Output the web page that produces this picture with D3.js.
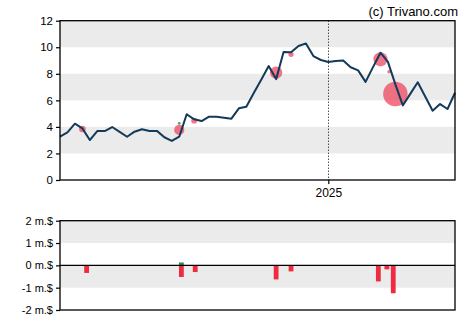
<!DOCTYPE html>
<html>
<head>
<meta charset="utf-8">
<script src="https://cdn.jsdelivr.net/npm/d3@7"></script>
<style>
  html, body { margin: 0; padding: 0; background: #fff; }
  svg { display: block; font-family: Arial, "Liberation Sans", sans-serif; }
</style>
</head>
<body>
<svg id="chart" width="470" height="325"></svg>
<script>
// Weekly closing prices (USD), first week starting 2024-04-24
const firstWeek = "2024-04-24";
const closes = [
  3.26, 3.59, 4.24, 3.89, 3.01, 3.69, 3.69, 3.99, 3.63, 3.26,
  3.64, 3.82, 3.69, 3.70, 3.22, 2.94, 3.26, 4.95, 4.57, 4.44,
  4.77, 4.77, 4.69, 4.62, 5.40, 5.52, 6.55, 7.55, 8.58, 7.60,
  9.64, 9.62, 10.09, 10.29, 9.34, 9.04, 8.89, 8.96, 9.01, 8.49,
  8.26, 7.39, 8.50, 9.59, 8.90, 7.20, 5.62, 6.49, 7.36, 6.29,
  5.22, 5.72, 5.35, 6.57
];

// Insider trades: date, price, value in millions USD (negative = sale)
const tradeDates  = ["2024-05-15", "2024-08-14", "2024-08-14", "2024-08-28", "2024-11-13", "2024-11-27", "2025-02-19", "2025-02-27", "2025-03-05"];
const tradePrices = [3.84, 3.77, 4.27, 4.47, 8.08, 9.47, 9.09, 8.16, 6.48];
const tradeValues = [-0.34, -0.52, 0.13, -0.30, -0.63, -0.27, -0.72, -0.18, -1.25];

// Net insider flow per filing period, millions USD
const flowDates = ["2024-05-19", "2024-08-16", "2024-08-29", "2024-11-13", "2024-11-27", "2025-02-17", "2025-02-25", "2025-03-03"];
const flowBuys  = [0, 0.13, 0, 0, 0, 0, 0, 0];
const flowSells = [-0.34, -0.52, -0.30, -0.63, -0.27, -0.72, -0.18, -1.25];

const priceTicks = [0, 2, 4, 6, 8, 10, 12];
const flowTicks = [2, 1, 0, -1, -2];
const flowTickLabels = ["2 m.$", "1 m.$", "0 m.$", "-1 m.$", "-2 m.$"];
const yearMark = "2025-01-01";
const yearLabel = "2025";
const creditText = "(c) Trivano.com";

const parse = d3.timeParse("%Y-%m-%d");
const start = parse(firstWeek);
const weeks = closes.map((v, i) => ({ date: d3.timeDay.offset(start, i * 7), value: v }));
const trades = tradeDates.map((d, i) => ({ date: parse(d), price: tradePrices[i], value: tradeValues[i] }));
const flows = flowDates.map((d, i) => ({ date: parse(d), buy: flowBuys[i], sell: flowSells[i] }));

const svg = d3.select("#chart");
const left = 60, right = 455;
const main = { top: 20.7, bottom: 180 };
const lower = { top: 220.7, bottom: 310 };

const x = d3.scaleTime()
  .domain([weeks[0].date, weeks[weeks.length - 1].date])
  .range([left, right]);
const y = d3.scaleLinear().domain([0, 12]).range([main.bottom, main.top]);
const yf = d3.scaleLinear().domain([-2, 2]).range([lower.bottom, lower.top]);

const bandFill = "#ebebeb";

// Alternating horizontal bands on the price panel
svg.append("g").selectAll("rect")
  .data([[10, 12], [6, 8], [2, 4]])
  .join("rect")
  .attr("x", left).attr("width", right - left)
  .attr("y", d => y(d[1])).attr("height", d => y(d[0]) - y(d[1]))
  .attr("fill", bandFill);

// Bands on the flow panel
svg.append("g").selectAll("rect")
  .data([[1, 2], [-1, 0]])
  .join("rect")
  .attr("x", left).attr("width", right - left)
  .attr("y", d => yf(d[1])).attr("height", d => yf(d[0]) - yf(d[1]))
  .attr("fill", bandFill);

// Year divider
const yx = Math.round(x(parse(yearMark))) + 0.5;
svg.append("line")
  .attr("x1", yx).attr("x2", yx)
  .attr("y1", main.top).attr("y2", main.bottom)
  .attr("stroke", "#000").attr("stroke-width", 1)
  .attr("stroke-dasharray", "1,2");

// Trade bubbles (radius proportional to value)
svg.append("g").selectAll("circle")
  .data(trades)
  .join("circle")
  .attr("cx", d => x(d.date))
  .attr("cy", d => y(d.price))
  .attr("r", d => Math.max(1.4, Math.abs(d.value) * 9.8))
  .attr("fill", d => d.value > 0 ? "#3a9a5a" : "#ee3b55")
  .attr("fill-opacity", d => d.value > 0 ? 0.9 : 0.7);

// Price line
svg.append("path")
  .datum(weeks)
  .attr("fill", "none")
  .attr("stroke", "#123a5a")
  .attr("stroke-width", 2)
  .attr("stroke-linejoin", "round")
  .attr("d", d3.line().x(d => x(d.date)).y(d => y(d.value)));

// Flow bars
const barW = 4.8;
const bars = svg.append("g");
bars.selectAll("rect.sell")
  .data(flows.filter(d => d.sell < 0))
  .join("rect")
  .attr("class", "sell")
  .attr("x", d => x(d.date) - barW / 2).attr("width", barW)
  .attr("y", yf(0)).attr("height", d => yf(d.sell) - yf(0))
  .attr("fill", "#ee2b40");
bars.selectAll("rect.buy")
  .data(flows.filter(d => d.buy > 0))
  .join("rect")
  .attr("class", "buy")
  .attr("x", d => x(d.date) - barW / 2).attr("width", barW)
  .attr("y", d => yf(d.buy)).attr("height", d => yf(0) - yf(d.buy))
  .attr("fill", "#2e8b57");

// Zero line of the flow panel
svg.append("line")
  .attr("x1", left).attr("x2", right)
  .attr("y1", yf(0)).attr("y2", yf(0))
  .attr("stroke", "#000").attr("stroke-width", 1.2);

// Frames
[[main.top, main.bottom], [lower.top, lower.bottom]].forEach(([t, b]) => {
  svg.append("rect")
    .attr("x", left).attr("y", t)
    .attr("width", right - left).attr("height", b - t)
    .attr("fill", "none").attr("stroke", "#000").attr("stroke-width", 1.3);
});

// Price axis
const yAxis = svg.append("g")
  .attr("transform", `translate(${left},0)`)
  .call(d3.axisLeft(y).tickValues(priceTicks).tickSize(4).tickPadding(3).tickFormat(d3.format("d")));
yAxis.select(".domain").remove();
yAxis.selectAll("line").attr("stroke", "#000").attr("stroke-width", 1.2);
yAxis.selectAll("text").attr("font-size", 11.5).attr("fill", "#000")
  .attr("font-family", "Arial, 'Liberation Sans', sans-serif");

// Flow axis
const fAxis = svg.append("g")
  .attr("transform", `translate(${left},0)`)
  .call(d3.axisLeft(yf).tickValues(flowTicks).tickSize(4).tickPadding(3)
    .tickFormat((d, i) => flowTickLabels[i]));
fAxis.select(".domain").remove();
fAxis.selectAll("line").attr("stroke", "#000").attr("stroke-width", 1.2);
fAxis.selectAll("text").attr("font-size", 11).attr("fill", "#000")
  .attr("font-family", "Arial, 'Liberation Sans', sans-serif");

// Time axis: year tick only
const xAxis = svg.append("g")
  .attr("transform", `translate(0,${main.bottom})`)
  .call(d3.axisBottom(x).tickValues([parse(yearMark)]).tickSize(4).tickPadding(4)
    .tickFormat(() => yearLabel));
xAxis.select(".domain").remove();
xAxis.selectAll("line").attr("stroke", "#000").attr("stroke-width", 1.2);
xAxis.selectAll("text").attr("font-size", 12).attr("fill", "#000")
  .attr("font-family", "Arial, 'Liberation Sans', sans-serif");

// Credit
svg.append("text")
  .attr("x", 458).attr("y", 16)
  .attr("text-anchor", "end")
  .attr("font-size", 13)
  .attr("fill", "#000")
  .text(creditText);
</script>
</body>
</html>
